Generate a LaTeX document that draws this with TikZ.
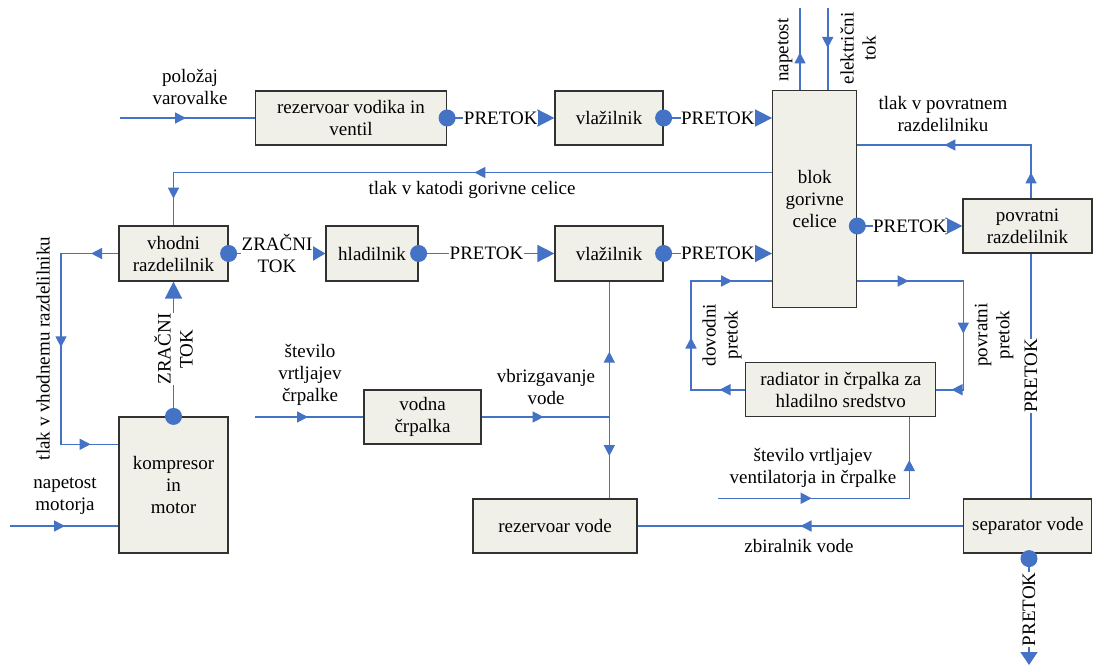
\documentclass[tikz,border=0pt]{standalone}
\usepackage{fontspec}
\setmainfont{Liberation Serif}
\usetikzlibrary{arrows.meta,decorations.markings}
\definecolor{lblue}{RGB}{68,114,196}
\definecolor{boxfill}{RGB}{240,240,233}
\definecolor{boxline}{RGB}{50,50,50}
\tikzset{
  every node/.style={font=\fontsize{19}{22}\selectfont},
  blk/.style={draw=boxline, line width=1.2pt, fill=boxfill, align=center,
              inner sep=0pt, minimum height=54pt},
  flow/.style={draw=lblue, line width=1.6pt},
  >={Triangle[length=11pt,width=11pt]},
  arr at/.style={postaction={decorate,decoration={markings,
      mark=at position #1 with {\arrow[lblue]{>}}}}},
  big/.style={-{Triangle[length=17pt,width=17pt]}},
  lbl/.style={fill=white, inner xsep=0.5pt, inner ysep=1pt, align=center},
  txt/.style={align=center, inner sep=0pt},
  dotr/.style={fill=lblue},
}
\begin{document}
\begin{tikzpicture}[x=1pt,y=-1pt]
\useasboundingbox (0,0) rectangle (1094,666);

% blocks
\node[blk, minimum width=191pt] (hv)   at (351,118)   {rezervoar vodika in\\ventil};
\node[blk, minimum width=108pt] (hum1) at (609,118)   {vlažilnik};
\node[blk, minimum width=84pt, minimum height=217pt] (fc) at (814.7,199.3) {blok\\gorivne\\celice};
\node[blk, minimum width=129pt] (ret)  at (1027.5,226) {povratni\\razdelilnik};
\node[blk, minimum width=109pt, minimum height=55pt] (inm) at (173.5,253.5) {vhodni\\razdelilnik};
\node[blk, minimum width=92pt, minimum height=55pt]  (cool) at (372,253.5) {hladilnik};
\node[blk, minimum width=108pt, minimum height=55pt] (hum2) at (609,253.5) {vlažilnik};
\node[blk, minimum width=109pt, minimum height=136pt] (comp) at (173.5,485) {kompresor\\in\\motor};
\node[blk, minimum width=117pt] (wp)   at (422.5,417) {vodna\\črpalka};
\node[blk, minimum width=190pt] (rad)  at (840.8,389.7) {radiator in črpalka za\\hladilno sredstvo};
\node[blk, minimum width=164pt] (wt)   at (555,526)   {rezervoar vode};
\node[blk, minimum width=128pt] (sep)  at (1027.8,526) {separator vode};

% free ends and bends
\coordinate (inH)  at (120,118);
\coordinate (vT)   at (800,8);
\coordinate (iT)   at (827.7,8);
\coordinate (rX)   at (1031,145);
\coordinate (kY)   at (173.5,172.5);
\coordinate (lX)   at (61,444.3);
\coordinate (wpIn) at (255,417);
\coordinate (jn)   at (609.3,417);
\coordinate (cR)   at (963.3,281);
\coordinate (cS)   at (691,281);
\coordinate (fIn)  at (718,498.3);
\coordinate (fB)   at (909.3,498.3);
\coordinate (mIn)  at (10,526);
\coordinate (sOut) at (1029,665);

% hydrogen line
\draw[flow, arr at=66pt] (inH) -- (hv.west);
\node[txt] (lh) at (190,87) {položaj\\varovalke};
\draw[flow, big] (hv.east) -- node[lbl] {PRETOK} (hum1.west);
\draw[flow, big] (hum1.east) -- node[lbl] {PRETOK} (hum1.east -| fc.west);

% electrical outputs
\draw[flow, arr at=37.7pt] (vT |- fc.north) -- (vT);
\draw[flow, arr at=40pt] (iT) -- (iT |- fc.north);
\node[txt, rotate=90] (lv) at (785,50) {napetost};
\node[txt, rotate=90] (li) at (858,48.5) {električni\\tok};

% return manifold pressure
\draw[flow, arr at=26pt, arr at=140pt] (rX |- ret.north) -- (rX) -- (rX -| fc.east);
\node[txt] (lpr) at (943,114) {tlak v povratnem\\razdelilniku};
\draw[flow, big] (fc.east |- ret.west) -- node[lbl] {PRETOK} (ret.west);

% cathode pressure
\draw[flow, arr at=297.7pt, arr at=624.7pt] (kY -| fc.west) -- (kY) -- (inm.north);
\node[txt] (lk) at (472,190) {tlak v katodi gorivne celice};

% air line
\draw[flow, -{Triangle[length=13pt,width=15pt]}] (inm.east) -- node[lbl] {ZRAČNI\\TOK} (cool.west);
\draw[flow, big] (cool.east) -- node[lbl] {PRETOK} (hum2.west);
\draw[flow, big] (hum2.east) -- node[lbl] {PRETOK} (hum2.east -| fc.west);

% inlet manifold pressure
\draw[flow, arr at=27.3pt, arr at=151.2pt, arr at=277.8pt]
  (inm.west) -- (lX |- inm.west) -- (lX) -- (lX -| comp.west);
\node[txt, rotate=90] (lim) at (43,348.5) {tlak v vhodnemu razdelilniku};

% compressor to inlet manifold
\draw[flow, big] (comp.north) -- node[lbl, rotate=90] {ZRAČNI\\TOK} (inm.south);
\draw[flow, arr at=55pt] (mIn) -- (mIn -| comp.west);
\node[txt] (lm) at (65,496) {napetost\\motorja};

% water pump and injection
\draw[flow, arr at=53pt] (wpIn) -- (wp.west);
\node[txt] (lw) at (310,375) {število\\vrtljajev\\črpalke};
\draw[flow, arr at=62pt] (wp.east) -- (jn);
\node[txt] (lb) at (546,387) {vbrizgavanje\\vode};
\draw[flow, arr at=65.3pt] (jn) -- (jn |- hum2.south);
\draw[flow, arr at=39pt] (jn) -- (jn |- wt.north);

% water collection
\draw[flow, arr at=162.7pt] (sep.west) -- (wt.east);
\node[txt] (lz) at (799,546) {zbiralnik vode};
\draw[flow, -{Triangle[length=13pt,width=17pt]}] (sOut |- sep.south) -- node[lbl, rotate=90] {PRETOK} (sOut);
\draw[flow] (rX |- ret.south) -- node[lbl, rotate=90] {PRETOK} (rX |- sep.north);

% coolant loop
\draw[flow, arr at=51.3pt, arr at=158.6pt, arr at=226.5pt]
  (cR -| fc.east) -- (cR) -- (cR |- rad.east) -- (rad.east);
\node[txt, rotate=90] (lpp) at (994,335) {povratni\\pretok};
\draw[flow, arr at=25.7pt, arr at=106.4pt, arr at=204.1pt]
  (rad.west) -- (cS |- rad.west) -- (cS) -- (cS -| fc.west);
\node[txt, rotate=90] (ldp) at (722,335) {dovodni\\pretok};
\draw[flow, arr at=93.7pt, arr at=229.6pt] (fIn) -- (fB) -- (fB |- rad.south);
\node[txt] (lf) at (813,468) {število vrtljajev\\ventilatorja in črpalke};

% junction dots
\fill[dotr] (hv.east) circle (8.5pt);
\fill[dotr] (hum1.east) circle (8.5pt);
\fill[dotr] (fc.east |- ret.west) circle (8.5pt);
\fill[dotr] (inm.east) circle (8.5pt);
\fill[dotr] (cool.east) circle (8.5pt);
\fill[dotr] (hum2.east) circle (8.5pt);
\fill[dotr] (comp.north) circle (8.5pt);
\fill[dotr] ([yshift=-5pt]sOut |- sep.south) circle (8.5pt);
\end{tikzpicture}
\end{document}
